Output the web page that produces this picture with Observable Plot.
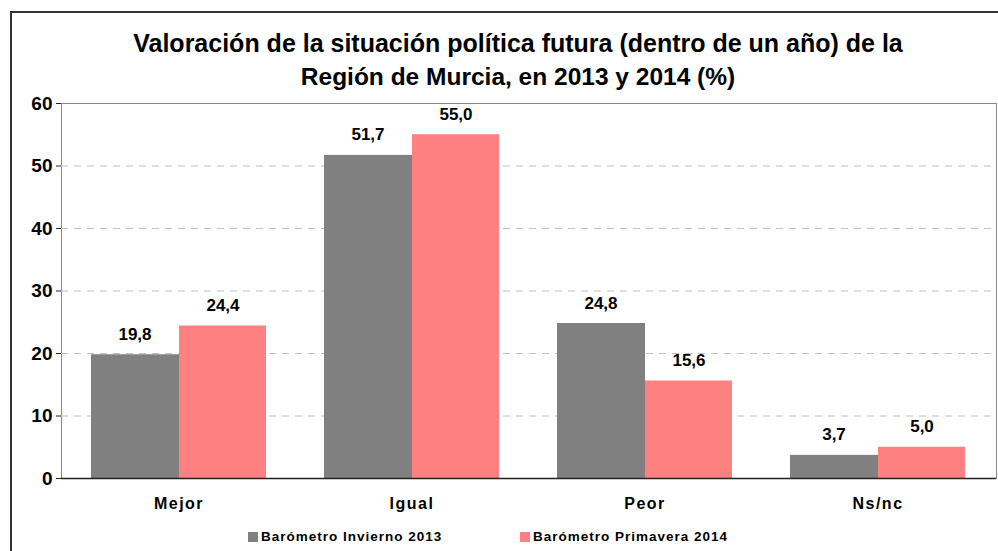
<!DOCTYPE html>
<html>
<head>
<meta charset="utf-8">
<script src="https://cdn.jsdelivr.net/npm/d3@7"></script>
<script src="https://cdn.jsdelivr.net/npm/@observablehq/plot@0.6"></script>
<style>
  html, body { margin: 0; padding: 0; background: #fff; overflow: hidden; }
  body { width: 998px; height: 551px; position: relative; font-family: "Liberation Sans", Arial, sans-serif; }
  #frame { position: absolute; left: 10px; top: 11px; width: 1010px; height: 600px; border: 2px solid #333; box-sizing: border-box; }
  #title { position: absolute; left: 0; top: 27px; width: 1036px; text-align: center; font-weight: bold; font-size: 25px; line-height: 33px; color: #000; }
  #title .l2 { font-size: 24.5px; }
  #chart { position: absolute; left: 0; top: 90px; }
  #legend { position: absolute; top: 529px; left: 0; width: 998px; font-weight: bold; font-size: 13.5px; letter-spacing: 1px; color: #000; }
  .item { position: absolute; display: flex; align-items: center; white-space: nowrap; }
  .sw { width: 10px; height: 10px; margin-right: 3px; display: inline-block; }
  #chart svg g[aria-label^="x-axis"] text { letter-spacing: 1.5px; }
</style>
</head>
<body>
<div id="frame"></div>
<div id="title">Valoración de la situación política futura (dentro de un año) de la<br><span class="l2">Región de Murcia, en 2013 y 2014 (%)</span></div>
<div id="chart"></div>
<div id="legend"></div>
<script>
const categories = ["Mejor", "Igual", "Peor", "Ns/nc"];
const series = ["Barómetro Invierno 2013", "Barómetro Primavera 2014"];
const invierno2013 = [19.8, 51.7, 24.8, 3.7];
const primavera2014 = [24.4, 55.0, 15.6, 5.0];
const yTicks = [0, 10, 20, 30, 40, 50, 60];
const colors = ["#808080", "#FF8080"];

const W = 998, H = 461, ml = 61, mr = 2, mt = 13, mb = 73;
const pad = 0.247;
const step = (W - ml - mr) / categories.length;
const half = step * (1 - pad) / 2;

const dataA = categories.map((c, i) => ({category: c, value: invierno2013[i]}));
const dataB = categories.map((c, i) => ({category: c, value: primavera2014[i]}));
const fmt = v => v.toFixed(1).replace(".", ",");

const plot = Plot.plot({
  width: W, height: H,
  marginLeft: ml, marginRight: mr, marginTop: mt, marginBottom: mb,
  style: {fontFamily: "Liberation Sans, Arial, sans-serif", fontSize: "16px", fontWeight: "bold", color: "#000", background: "transparent"},
  x: {domain: categories, paddingInner: pad, paddingOuter: pad / 2, label: null},
  y: {domain: [0, 60], ticks: yTicks, label: null},
  marks: [
    Plot.frame({stroke: "#888"}),
    Plot.ruleY(yTicks.filter(t => t > 0 && t < 60), {stroke: "#c0c0c0", strokeDasharray: "7,6"}),
    Plot.barY(dataA, {x: "category", y: "value", fill: colors[0], insetRight: half - 1, insetLeft: 0}),
    Plot.barY(dataB, {x: "category", y: "value", fill: colors[1], insetLeft: half, insetRight: 0}),
    Plot.text(dataA, {x: "category", y: "value", text: d => fmt(d.value), dx: -half / 2, dy: -15, lineAnchor: "bottom", fill: "#000", fontSize: 17}),
    Plot.text(dataB, {x: "category", y: "value", text: d => fmt(d.value), dx: half / 2, dy: -15, lineAnchor: "bottom", fill: "#000", fontSize: 17}),
    Plot.ruleY([0], {stroke: "#222", strokeWidth: 1.5}),
    Plot.axisY({ticks: yTicks, tickSize: 5, tickPadding: 4, label: null, stroke: "#222", fontSize: 19}),
    Plot.axisX({tickSize: 0, tickPadding: 19, label: null, fontSize: 16})
  ]
});
document.getElementById("chart").appendChild(plot);

const legend = document.getElementById("legend");
const legendX = [248, 520];
series.forEach((s, i) => {
  const it = document.createElement("div");
  it.className = "item";
  it.style.left = legendX[i] + "px";
  it.innerHTML = `<span class="sw" style="background:${colors[i]}"></span>${s}`;
  legend.appendChild(it);
});
</script>
</body>
</html>
